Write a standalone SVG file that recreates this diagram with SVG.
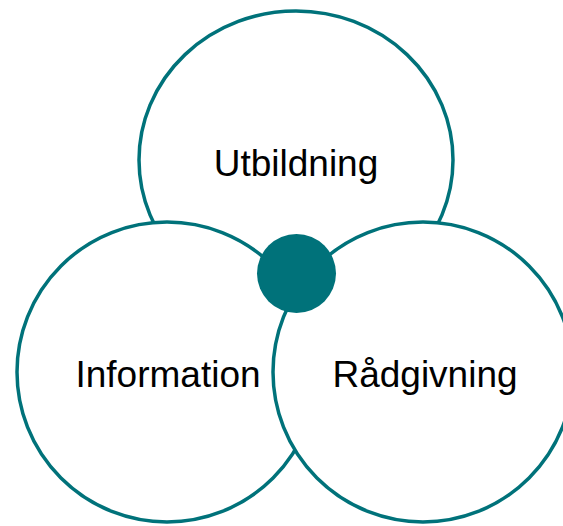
<svg xmlns="http://www.w3.org/2000/svg" width="563" height="526" viewBox="0 0 563 526">
<style>
.c{fill:#FFFFFF;stroke:#00727A;stroke-width:3.5}
.t{font-family:"Liberation Sans",Arial,sans-serif;font-size:37px;fill:#000000;text-anchor:middle}
</style>
<rect width="563" height="526" fill="#FFFFFF"/>
<g id="utbildning">
<ellipse class="c" cx="296" cy="160" rx="157" ry="149"/>
<text class="t" x="296" y="176">Utbildning</text>
</g>
<g id="information">
<circle class="c" cx="167" cy="372" r="150"/>
<text class="t" x="168" y="387">Information</text>
</g>
<g id="radgivning">
<circle class="c" cx="423" cy="372" r="150"/>
<text class="t" x="425" y="387">Rådgivning</text>
</g>
<g id="center">
<circle cx="296.5" cy="273.5" r="39.5" fill="#00727A"/>
</g>
<g id="connectors"/>
</svg>
